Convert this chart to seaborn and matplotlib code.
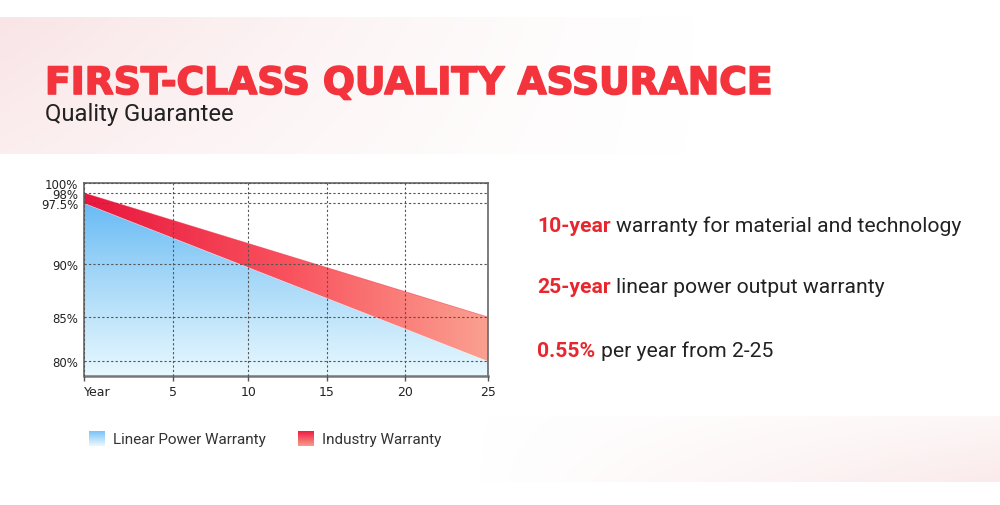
import numpy as np
import pandas as pd
import seaborn as sns
import matplotlib
matplotlib.use("Agg")
import matplotlib.pyplot as plt
from matplotlib.colors import LinearSegmentedColormap, to_rgb
from matplotlib import patheffects

# ---- data ----
years = [0, 25]
industry_warranty = [98, 85]        # upper edge of the red band
linear_power_warranty = [97.5, 80]  # upper edge of the blue area
x_ticks = [0, 5, 10, 15, 20, 25]
x_labels = ["Year", "5", "10", "15", "20", "25"]
y_ticks = [80, 85, 90, 97.5, 98, 100]
y_labels = ["80%", "85%", "90%", "97.5%", "98%", "100%"]
legend_labels = ["Linear Power Warranty", "Industry Warranty"]
bullet_keys = ["10-year", "25-year", "0.55%"]
bullet_texts = ["warranty for material and technology",
                "linear power output warranty",
                "per year from 2-25"]
title = "FIRST-CLASS QUALITY ASSURANCE"
subtitle = "Quality Guarantee"

# the original chart is not evenly spaced, so map values through anchor points
X_V = [-5, 0, 5, 10, 15, 20, 25, 30]
X_P = [-88.7, 0, 88.7, 164.3, 242.7, 321, 403.7, 483.7]
Y_V = [60, 78.3, 80, 85, 90, 97.5, 98, 100, 120]
Y_P = [-162.5, 0, 14.7, 59, 112.3, 172.7, 183, 193, 293]


def fx(v):
    return np.interp(v, X_V, X_P)


def fx_inv(p):
    return np.interp(p, X_P, X_V)


def fy(v):
    return np.interp(v, Y_V, Y_P)


def fy_inv(p):
    return np.interp(p, Y_P, Y_V)


sns.set_theme(style="ticks")
plt.rcParams["font.family"] = ["DejaVu Sans"]
SANS = ["Roboto", "DejaVu Sans"]

fig = plt.figure(figsize=(10, 5.06), dpi=100)
fig.patch.set_facecolor("white")

# background layer in pixel coords
bg = fig.add_axes([0, 0, 1, 1], zorder=0)
bg.axis("off")

pink = np.array(to_rgb("#f2c4c7"))
gx = np.linspace(0, 1, 300)[None, :]
gy = np.linspace(0, 1, 60)[:, None]
banner = np.zeros((60, 300, 4))
banner[..., :3] = pink
banner[..., 3] = 0.45 * (1 - gx) ** 1.4 * (1 - 0.35 * gy)
bg.imshow(banner, extent=[0, 720, 155, 18], aspect="auto", interpolation="bilinear")

band = np.zeros((60, 300, 4))
band[..., :3] = np.array(to_rgb("#f3c8ca"))
band[..., 3] = 0.38 * gx ** 1.1 * (0.4 + 0.6 * gy)
bg.imshow(band, extent=[470, 1000, 483, 417], aspect="auto", interpolation="bilinear")
bg.set_xlim(0, 1000)
bg.set_ylim(506, 0)

bg.text(45, 95, title, fontsize=27.1, fontweight="bold", color="#f3343c",
        va="baseline", ha="left",
        path_effects=[patheffects.withStroke(linewidth=1.2, foreground="#f3343c")])
bg.text(45, 121, subtitle, fontsize=17.2, family=SANS, color="#222222", va="baseline")

for yb, key, rest in zip([232, 293, 356.7], bullet_keys, bullet_texts):
    t1 = bg.text(537, yb, key, fontsize=15.2, fontweight="bold", color="#e8262e",
                 family=SANS, va="baseline", ha="left")
    bg.annotate(rest, xy=(1, 0), xycoords=t1, xytext=(4, 0), textcoords="offset points",
                va="bottom", ha="left", fontsize=15.2, color="#222222", family=SANS)

# ---- chart ----
ax = fig.add_axes([0.084, 1 - 377 / 506, 0.4037, 193 / 506], zorder=2)
ax.set_xscale("function", functions=(fx, fx_inv))
ax.set_yscale("function", functions=(fy, fy_inv))
y_bottom, y_top = 78.3, 100

df = pd.DataFrame({"year": years, "industry": industry_warranty,
                   "linear": linear_power_warranty})

blue_poly = ax.fill_between(df["year"], y_bottom, df["linear"], color="none", lw=0)
red_poly = ax.fill_between(df["year"], df["linear"], df["industry"], color="none", lw=0)

blue_cmap = LinearSegmentedColormap.from_list("b", ["#e8f8ff", "#a6d8f8", "#58b3f4"])
red_cmap = LinearSegmentedColormap.from_list("r", ["#e8163d", "#f9515d", "#fba090"])

vert = np.linspace(1, 0, 200)[:, None] * np.ones((1, 4))
im_b = ax.imshow(blue_cmap(vert), extent=[0, 1, 0, 1], transform=ax.transAxes,
                 aspect="auto", interpolation="bilinear", zorder=1)
im_b.set_clip_path(blue_poly.get_paths()[0], ax.transData)

horiz = np.ones((4, 1)) * np.linspace(0, 1, 300)[None, :]
im_r = ax.imshow(red_cmap(horiz), extent=[0, 1, 0, 1], transform=ax.transAxes,
                 aspect="auto", interpolation="bilinear", zorder=1)
im_r.set_clip_path(red_poly.get_paths()[0], ax.transData)

sns.lineplot(data=df, x="year", y="industry", ax=ax, color="#ef2a48", lw=0.6, alpha=0.5)
sns.lineplot(data=df, x="year", y="linear", ax=ax, color="#ffffff", lw=0.5, alpha=0.5)

ax.set(xlabel="", ylabel="")
ax.set_xlim(0, 25)
ax.set_ylim(y_bottom, y_top)
ax.set_xticks(x_ticks)
ax.set_xticklabels(x_labels)
ax.set_yticks(y_ticks)
ax.set_yticklabels(y_labels)
ax.minorticks_off()
ax.get_xticklabels()[0].set_horizontalalignment("left")

ax.set_axisbelow(False)
ax.grid(True, ls=(0, (2, 2)), color="#555555", lw=0.8)
ax.tick_params(axis="x", length=3.5, width=1, color="#555555", pad=3,
               labelsize=9, labelcolor="#222222")
ax.tick_params(axis="y", length=0, pad=4, labelsize=8.5, labelcolor="#222222")
for side, sp in ax.spines.items():
    sp.set_visible(True)
    sp.set_color("#666666")
    sp.set_linewidth(1.2)
ax.spines["bottom"].set_linewidth(1.8)
ax.spines["bottom"].set_color("#777777")

# ---- legend ----
leg_blue = LinearSegmentedColormap.from_list("lb", ["#7cc3f6", "#eaf8ff"])
leg_red = LinearSegmentedColormap.from_list("lr", ["#ef1f40", "#fa9a8c"])
col = np.linspace(0, 1, 50)[:, None] * np.ones((1, 2))
for x0, cmap, label in zip([89, 298], [leg_blue, leg_red], legend_labels):
    sq = fig.add_axes([x0 / 1000, 1 - 447 / 506, 16 / 1000, 15 / 506], zorder=3)
    sq.imshow(cmap(col), aspect="auto", interpolation="bilinear")
    sq.axis("off")
    bg.text(x0 + 24, 440, label, fontsize=11, family=SANS, color="#333333", va="center")

fig.savefig("out.png", dpi=100)
